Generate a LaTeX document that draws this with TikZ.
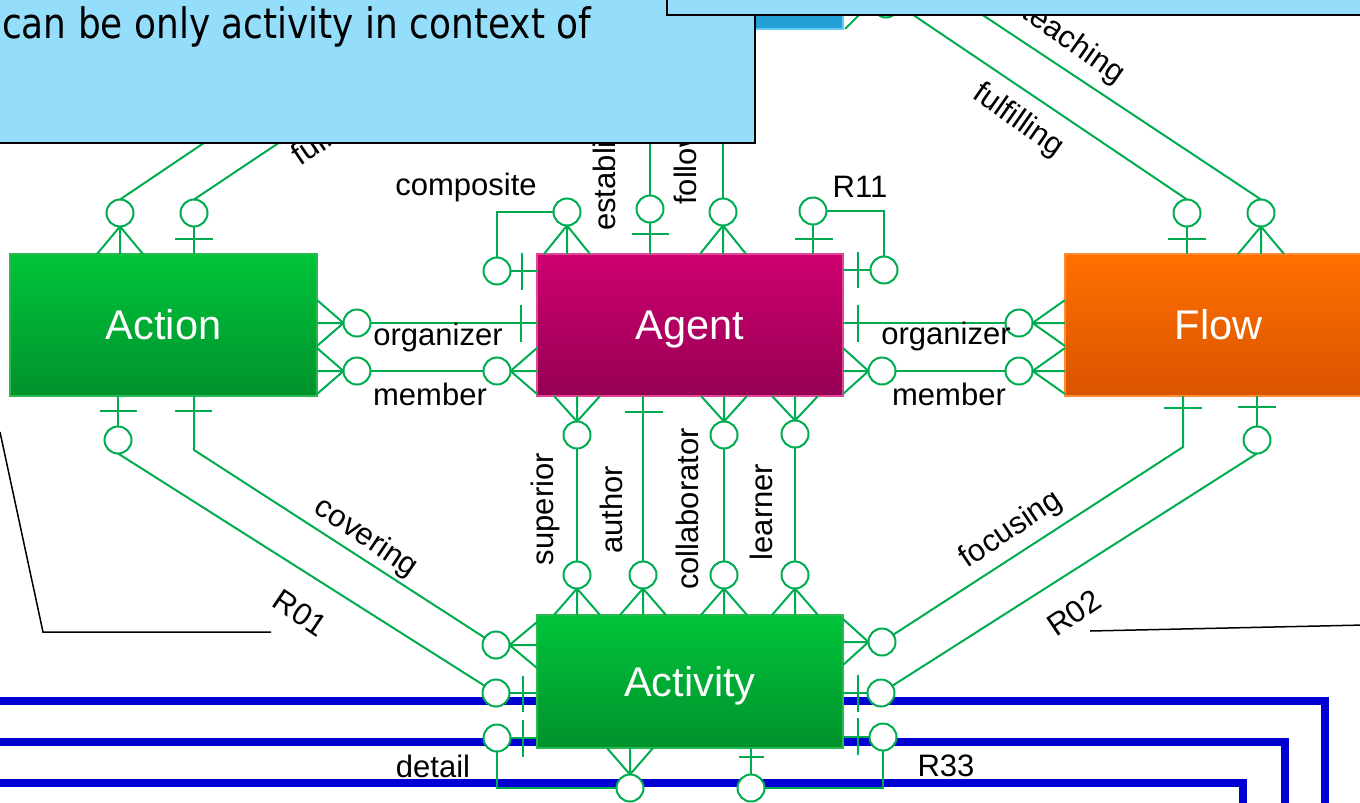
\documentclass[tikz,border=0pt]{standalone}
\usepackage{fontspec}
\setmainfont{Liberation Sans}
\newfontfamily\callfont[FakeStretch=0.855]{DejaVu Sans}
\usetikzlibrary{calc}
\definecolor{erg}{RGB}{0,172,80}
\definecolor{actTop}{RGB}{0,196,58}
\definecolor{actBot}{RGB}{0,146,44}
\definecolor{actLine}{RGB}{40,185,80}
\definecolor{agTop}{RGB}{206,0,112}
\definecolor{agBot}{RGB}{150,0,82}
\definecolor{agLine}{RGB}{225,70,150}
\definecolor{flTop}{RGB}{255,112,0}
\definecolor{flBot}{RGB}{218,84,0}
\definecolor{flLine}{RGB}{255,140,50}
\definecolor{bl}{RGB}{0,0,210}
\definecolor{callfill}{RGB}{148,222,252}
\definecolor{darkbar}{RGB}{35,160,214}
\definecolor{darkbarline}{RGB}{100,200,245}
\newcommand\lblsize{\fontsize{31}{36}\selectfont}
\newcommand\entsize{\fontsize{41.5}{48}\selectfont}
\newcommand\notesize{\callfont\fontsize{42}{48}\selectfont}
% crow's feet: circle #1, box #2
\newcommand\ftN[2]{\draw[rel] (#1.south) -- ($(#1.south |- #2.north)+(-23,0)$)
  (#1.south) -- (#1.south |- #2.north)
  (#1.south) -- ($(#1.south |- #2.north)+(23,0)$);}
\newcommand\ftS[2]{\draw[rel] (#1.north) -- ($(#1.north |- #2.south)+(-23,0)$)
  (#1.north) -- (#1.north |- #2.south)
  (#1.north) -- ($(#1.north |- #2.south)+(23,0)$);}
\newcommand\ftE[2]{\draw[rel] (#1.west) -- ($(#1.west -| #2.east)+(0,-23)$)
  (#1.west) -- (#1.west -| #2.east)
  (#1.west) -- ($(#1.west -| #2.east)+(0,23)$);}
\newcommand\ftW[2]{\draw[rel] (#1.east) -- ($(#1.east -| #2.west)+(0,-23)$)
  (#1.east) -- (#1.east -| #2.west)
  (#1.east) -- ($(#1.east -| #2.west)+(0,23)$);}
\begin{document}
\begin{tikzpicture}[x=1pt,y=-1pt,
  rel/.style={draw=erg,line width=2pt},
  circ/.style={circle,draw=erg,fill=white,line width=2pt,minimum size=27pt,inner sep=0pt,outer sep=0pt},
  entity/.style={rectangle,line width=1.5pt,text=white,font=\entsize,inner sep=0pt,outer sep=0pt,text height=29pt,text depth=0pt},
  lbl/.style={font=\lblsize,text=black,inner sep=0pt},
  blueline/.style={draw=bl,line width=8pt},
  callout/.style={fill=callfill,draw=black,line width=2pt},
  pointer/.style={draw=black,line width=1.5pt}]
\useasboundingbox (0,0) rectangle (1360,803);

% blue lines in the background
\draw[blueline] (-10,701) -- (1325,701) -- (1325,815);
\draw[blueline] (-10,742) -- (1285,742) -- (1285,815);
\draw[blueline] (-10,783) -- (1243,783) -- (1243,815);

% entities
\node[entity,top color=actTop,bottom color=actBot,draw=actLine,minimum width=307pt,minimum height=142pt] (action) at (163.5,325) {Action};
\node[entity,top color=agTop,bottom color=agBot,draw=agLine,minimum width=306pt,minimum height=142pt] (agent) at (690,325) {Agent};
\node[entity,top color=flTop,bottom color=flBot,draw=flLine,minimum width=307pt,minimum height=142pt] (flow) at (1218.5,325) {Flow};
\node[entity,top color=actTop,bottom color=actBot,draw=actLine,minimum width=306pt,minimum height=133pt] (activity) at (690,681.5) {Activity};

% circles
\node[circ] (cA1) at (120,213) {};
\node[circ] (cA2) at (194,213) {};
\node[circ] (cG1) at (567,212) {};
\node[circ] (cG2) at (497,271) {};
\node[circ] (cG3) at (650,209) {};
\node[circ] (cG4) at (723,212) {};
\node[circ] (cG5) at (813,211) {};
\node[circ] (cG6) at (884,270) {};
\node[circ] (cF1) at (1187,213) {};
\node[circ] (cF2) at (1261,213) {};
\node[circ] (cAo) at (357,323) {};
\node[circ] (cAm) at (357,371) {};
\node[circ] (cGm) at (497,371) {};
\node[circ] (cFo) at (1019,323) {};
\node[circ] (cGn) at (882,371) {};
\node[circ] (cFm) at (1019,371) {};
\node[circ] (cA3) at (118,440) {};
\node[circ] (cF3) at (1257,440) {};
\node[circ] (cS1) at (577,435) {};
\node[circ] (cS2) at (577,575) {};
\node[circ] (cU) at (643,575) {};
\node[circ] (cC1) at (724,435) {};
\node[circ] (cC2) at (724,575) {};
\node[circ] (cL1) at (795,434) {};
\node[circ] (cL2) at (795,575) {};
\node[circ] (cT1) at (496,645) {};
\node[circ] (cT2) at (496,693) {};
\node[circ] (cT3) at (497,738) {};
\node[circ] (cT4) at (630,788) {};
\node[circ] (cT5) at (751,788) {};
\node[circ] (cT6) at (883,737) {};
\node[circ] (cT7) at (882,642) {};
\node[circ] (cT8) at (881,693) {};

% Action top
\ftN{cA1}{action}
\draw[rel] (cA1.north) -- (238,120);
\draw[rel] (cA2.south) -- (cA2.south |- action.north);
\draw[rel] (175,239) -- (213,239);
\draw[rel] (cA2.north) -- (313,120);

% Agent top
\ftN{cG1}{agent}
\draw[rel] (cG1.west) -| (cG2.north);
\draw[rel] (cG2.east) -- (cG2.east -| agent.west);
\draw[rel] (522,253) -- (522,290);
\draw[rel] (cG3.south) -- (cG3.south |- agent.north);
\draw[rel] (632,234) -- (669,234);
\draw[rel] (cG3.north) -- (650,120);
\ftN{cG4}{agent}
\draw[rel] (cG4.north) -- (723,120);
\draw[rel] (cG5.south) -- (cG5.south |- agent.north);
\draw[rel] (795,239) -- (833,239);
\draw[rel] (cG5.east) -| (cG6.north);
\draw[rel] (cG6.west) -- (cG6.west -| agent.east);
\draw[rel] (858,252) -- (858,288);

% Action - Agent
\ftE{cAo}{action}
\draw[rel] (cAo.east) -- (cAo.east -| agent.west);
\draw[rel] (521,305) -- (521,342);
\ftE{cAm}{action}
\draw[rel] (cAm) -- (cGm);
\ftW{cGm}{agent}

% Agent - Flow
\draw[rel] (cFo.west -| agent.east) -- (cFo.west);
\draw[rel] (858,305) -- (858,342);
\ftW{cFo}{flow}
\ftE{cGn}{agent}
\draw[rel] (cGn) -- (cFm);
\ftW{cFm}{flow}

% Flow top
\draw[rel] (cF1.south) -- (cF1.south |- flow.north);
\draw[rel] (1168,239) -- (1206,239);
\draw[rel] (cF1.north) -- (891,0);
\ftN{cF2}{flow}
\draw[rel] (cF2.north) -- (960,0);

% Action bottom
\draw[rel] (cA3.north |- action.south) -- (cA3.north);
\draw[rel] (100,411) -- (137,411);
\draw[rel] (cA3.south) -- (cT2);
\coordinate (aB) at (194,450);
\draw[rel] (aB |- action.south) -- (aB) -- (cT1);
\draw[rel] (175,411) -- (212,411);

% Activity left and bottom
\ftW{cT1}{activity}
\draw[rel] (cT2.east) -- (cT2.east -| activity.west);
\draw[rel] (523,676) -- (523,712);
\draw[rel] (cT3.east) -- (cT3.east -| activity.west);
\draw[rel] (523,720) -- (523,757);
\draw[rel] (cT3.south) |- (cT4.west);
\ftS{cT4}{activity}
\draw[rel] (cT5.north) -- (cT5.north |- activity.south);
\draw[rel] (739,757) -- (764,757);
\draw[rel] (cT5.east) -| (cT6.south);
\draw[rel] (cT6.west -| activity.east) -- (cT6.west);
\draw[rel] (858,718) -- (858,755);

% Activity right
\ftE{cT7}{activity}
\coordinate (fB) at (1183,447);
\draw[rel] (cT7) -- (fB) -- (fB |- flow.south);
\draw[rel] (1164,408) -- (1202,408);
\draw[rel] (cT8.west -| activity.east) -- (cT8.west);
\draw[rel] (858,675) -- (858,712);
\draw[rel] (cT8) -- (cF3.south);
\draw[rel] (cF3.north) -- (cF3.north |- flow.south);
\draw[rel] (1238,407) -- (1276,407);

% Agent - Activity
\ftS{cS1}{agent}
\draw[rel] (cS1) -- (cS2);
\ftN{cS2}{activity}
\draw[rel] (cU.north |- agent.south) -- (cU.north);
\draw[rel] (625,412) -- (663,412);
\ftN{cU}{activity}
\ftS{cC1}{agent}
\draw[rel] (cC1) -- (cC2);
\ftN{cC2}{activity}
\ftS{cL1}{agent}
\draw[rel] (cL1) -- (cL2);
\ftN{cL2}{activity}

% labels
\node[lbl,anchor=base] (lOrgL) at (438,345) {organizer};
\node[lbl,anchor=base] (lMemL) at (430,405) {member};
\node[lbl,anchor=base] (lOrgR) at (946,344) {organizer};
\node[lbl,anchor=base] (lMemR) at (949,405) {member};
\node[lbl,anchor=base] (lComp) at (466,195) {composite};
\node[lbl,anchor=base] (lR11) at (860,197) {R11};
\node[lbl,anchor=base] (lDet) at (433,777) {detail};
\node[lbl,anchor=base] (lR33) at (946,776) {R33};
\node[lbl,rotate=90] (lSup) at (545,509) {superior};
\node[lbl,rotate=90] (lAut) at (611,510) {author};
\node[lbl,rotate=90] (lCol) at (687.5,509) {collaborator};
\node[lbl,rotate=90] (lLea) at (761,512) {learner};
\node[lbl,rotate=90,anchor=west] (lEst) at (607,231) {establishing};
\node[lbl,rotate=90,anchor=west] (lFol) at (688,205) {following};
\node[lbl,rotate=-34] (lCov) at (366,538) {covering};
\node[lbl,rotate=-34] (lR01) at (300,613) {R01};
\node[lbl,rotate=34] (lFoc) at (1011,530) {focusing};
\node[lbl,rotate=34] (lR02) at (1074,613) {R02};
\node[lbl,rotate=-35] (lFulR) at (1018,121) {fulfilling};
\node[lbl,rotate=-35] (lTea) at (1073,44) {teaching};
\node[lbl,rotate=34,anchor=west] (lFulL) at (296,160) {fulfilling};

% pointer lines
\draw[pointer] (0,432) -- (43,632) -- (271,632);
\draw[pointer] (1090,631) -- (1365,625);

% top: partly hidden entity and callouts
\fill[darkbar] (754,-5) rectangle (842,29);
\draw[darkbarline,line width=1.5pt] (843,-5) -- (843,29) -- (754,29);
\node[circ] (cX) at (886,4) {};
\draw[rel] (845,29) -- (866,8);
\draw[callout] (-10,-10) rectangle (755,143);
\node[anchor=base west,inner sep=0pt,font=\notesize] (note) at (2,38) {can be only activity in context of};
\draw[callout] (667,-10) rectangle (1370,15);
\end{tikzpicture}
\end{document}
